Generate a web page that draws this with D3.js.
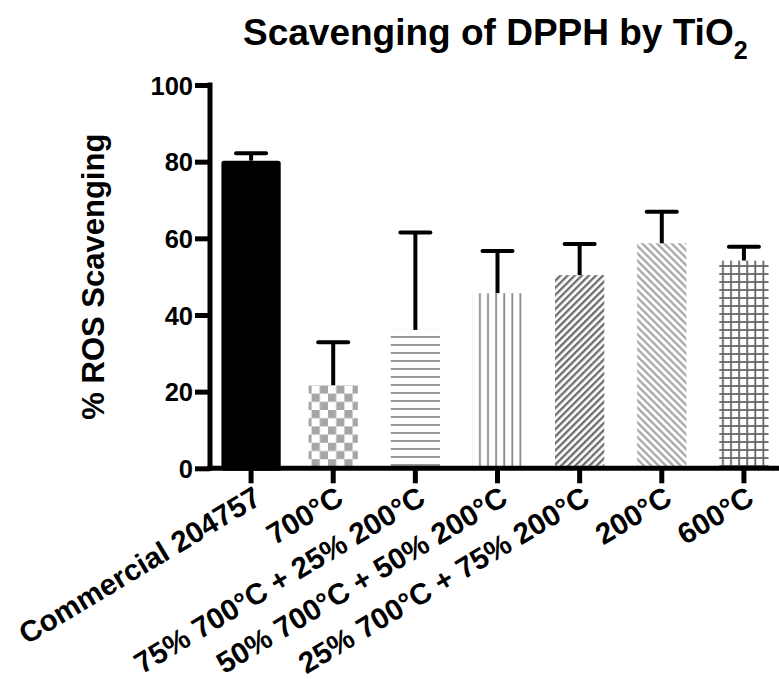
<!DOCTYPE html>
<html>
<head>
<meta charset="utf-8">
<script src="https://cdn.jsdelivr.net/npm/d3@7"></script>
<style>
  html, body { margin: 0; padding: 0; background: #fff; }
  svg { display: block; }
  text { font-family: "Liberation Sans", Arial, Helvetica, sans-serif; font-weight: bold; fill: #000; }
</style>
</head>
<body>
<svg id="chart" width="779" height="679"></svg>
<script>
// ---- data ----
const categories = ["Commercial 204757", "700°C", "75% 700°C + 25% 200°C", "50% 700°C + 50% 200°C", "25% 700°C + 75% 200°C", "200°C", "600°C"];
const means = [79.6, 21.7, 36.1, 45.7, 50.4, 58.7, 54.2];
const errors = [2.6, 11.2, 25.4, 11.0, 8.1, 8.2, 3.6];
const fills = ["black", "checker", "hlines", "vlines", "diagUp", "diagDown", "grid"];
const yTicks = [0, 20, 40, 60, 80, 100];
const titleText = "Scavenging of DPPH by TiO";
const titleSub = "2";
const yTitle = "% ROS Scavenging";

// ---- layout ----
const W = 779, H = 679;
const svg = d3.select("#chart");

const x = d3.scaleBand().domain(categories).range([210, 785]).paddingInner(0.4).paddingOuter(0.2);
const y = d3.scaleLinear().domain([0, 100]).range([468.3, 85]);

// ---- patterns ----
const defs = svg.append("defs");
const checker = defs.append("pattern").attr("id", "checker").attr("patternUnits", "userSpaceOnUse")
  .attr("width", 16.4).attr("height", 16.4);
checker.append("rect").attr("width", 16.4).attr("height", 16.4).attr("fill", "#fff");
checker.append("rect").attr("x", 0).attr("y", 0).attr("width", 8.2).attr("height", 8.2).attr("fill", "#a5a5aa");
checker.append("rect").attr("x", 8.2).attr("y", 8.2).attr("width", 8.2).attr("height", 8.2).attr("fill", "#a5a5aa");

const hl = defs.append("pattern").attr("id", "hlines").attr("patternUnits", "userSpaceOnUse")
  .attr("width", 8).attr("height", 8);
hl.append("rect").attr("width", 8).attr("height", 8).attr("fill", "#fff");
hl.append("line").attr("x1", 0).attr("x2", 8).attr("y1", 1).attr("y2", 1).attr("stroke", "#808080").attr("stroke-width", 1.6);

const vl = defs.append("pattern").attr("id", "vlines").attr("patternUnits", "userSpaceOnUse")
  .attr("width", 8.1).attr("height", 8);
vl.append("rect").attr("width", 8.1).attr("height", 8).attr("fill", "#fff");
vl.append("line").attr("x1", 2).attr("x2", 2).attr("y1", 0).attr("y2", 8).attr("stroke", "#858585").attr("stroke-width", 1.7);

const du = defs.append("pattern").attr("id", "diagUp").attr("patternUnits", "userSpaceOnUse")
  .attr("width", 5).attr("height", 10).attr("patternTransform", "rotate(45)");
du.append("rect").attr("width", 5).attr("height", 10).attr("fill", "#fff");
du.append("line").attr("x1", 1.2).attr("x2", 1.2).attr("y1", 0).attr("y2", 10).attr("stroke", "#6a6a6a").attr("stroke-width", 2.3);

const dd = defs.append("pattern").attr("id", "diagDown").attr("patternUnits", "userSpaceOnUse")
  .attr("width", 5.2).attr("height", 10).attr("patternTransform", "rotate(-45)");
dd.append("rect").attr("width", 5.2).attr("height", 10).attr("fill", "#fff");
dd.append("line").attr("x1", 1.2).attr("x2", 1.2).attr("y1", 0).attr("y2", 10).attr("stroke", "#a8a8a8").attr("stroke-width", 2.3);

const gr = defs.append("pattern").attr("id", "grid").attr("patternUnits", "userSpaceOnUse")
  .attr("width", 8.1).attr("height", 8);
gr.append("rect").attr("width", 8.1).attr("height", 8).attr("fill", "#fff");
gr.append("line").attr("x1", 2).attr("x2", 2).attr("y1", 0).attr("y2", 8).attr("stroke", "#666").attr("stroke-width", 1.8);
gr.append("line").attr("x1", 0).attr("x2", 8.1).attr("y1", 2).attr("y2", 2).attr("stroke", "#666").attr("stroke-width", 1.8);

// ---- bars ----
const data = categories.map((c, i) => ({ c, m: means[i], e: errors[i], f: fills[i] }));
const bw = x.bandwidth();

svg.append("g").selectAll("rect").data(data).join("rect")
  .attr("x", d => d.f === "black" ? x(d.c) - 2.5 : x(d.c))
  .attr("width", d => d.f === "black" ? bw + 5 : bw)
  .attr("y", d => y(d.m))
  .attr("height", d => y(0) - y(d.m))
  .attr("fill", d => d.f === "black" ? "#000" : `url(#${d.f})`)
  .attr("stroke", d => d.f === "black" ? "#000" : "none")
  .attr("stroke-width", 5)
  .attr("stroke-linejoin", "round");

// ---- error bars (upper only) ----
const eb = svg.append("g").attr("stroke", "#000").attr("stroke-width", 4);
eb.selectAll("line.stem").data(data).join("line").attr("class", "stem")
  .attr("x1", d => x(d.c) + bw / 2).attr("x2", d => x(d.c) + bw / 2)
  .attr("y1", d => y(d.m) - (d.f === "black" ? 2.5 : 0)).attr("y2", d => y(d.m + d.e));
eb.selectAll("line.cap").data(data).join("line").attr("class", "cap")
  .attr("x1", d => x(d.c) + bw / 2 - 15).attr("x2", d => x(d.c) + bw / 2 + 15)
  .attr("y1", d => y(d.m + d.e)).attr("y2", d => y(d.m + d.e))
  .attr("stroke-linecap", "round");

// ---- y axis ----
const yAxis = svg.append("g").attr("transform", "translate(210,0)")
  .call(d3.axisLeft(y).tickValues(yTicks).tickSize(15).tickPadding(2).tickSizeOuter(0));
yAxis.select(".domain").remove();
yAxis.selectAll(".tick line").attr("stroke", "#000").attr("stroke-width", 5);
yAxis.selectAll(".tick text").style("font-size", "25.5px").attr("dy", "0.36em");
yAxis.append("line").attr("x1", 0).attr("x2", 0).attr("y1", y(0) + 2.5).attr("y2", y(100) - 2.5)
  .attr("stroke", "#000").attr("stroke-width", 5);

// ---- x axis ----
const xAxis = svg.append("g").attr("transform", `translate(0,${y(0)})`)
  .call(d3.axisBottom(x).tickSize(15).tickSizeOuter(0));
xAxis.select(".domain").remove();
xAxis.selectAll(".tick line").attr("stroke", "#000").attr("stroke-width", 5);
xAxis.append("line").attr("x1", 207.5).attr("x2", W).attr("y1", 0).attr("y2", 0)
  .attr("stroke", "#000").attr("stroke-width", 5);
xAxis.selectAll(".tick text")
  .style("font-size", "29.5px")
  .attr("text-anchor", "end")
  .attr("y", 0).attr("x", 0)
  .attr("dy", "0.72em")
  .attr("transform", "translate(1,16.5) rotate(-31)");

// ---- titles ----
const t = svg.append("text").attr("x", 243).attr("y", 45).style("font-size", "37px");
t.append("tspan").text(titleText);
t.append("tspan").text(titleSub).style("font-size", "25px").attr("dy", 14);

svg.append("text")
  .attr("transform", `translate(104,${(y(0) + y(100)) / 2}) rotate(-90)`)
  .attr("text-anchor", "middle")
  .style("font-size", "31px")
  .text(yTitle);
</script>
</body>
</html>
